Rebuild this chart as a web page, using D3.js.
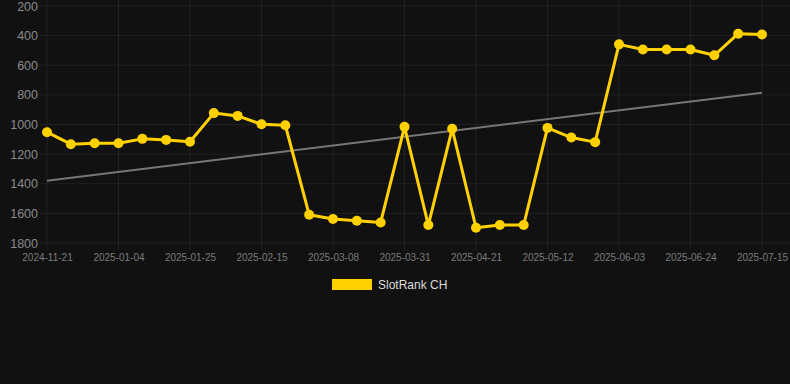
<!DOCTYPE html>
<html>
<head>
<meta charset="utf-8">
<script src="https://cdn.jsdelivr.net/npm/d3@7"></script>
<style>
  html, body { margin: 0; padding: 0; background: #111111; }
  svg { display: block; font-family: "Liberation Sans", Arial, sans-serif; }
</style>
</head>
<body>
<svg id="chart" width="790" height="384"></svg>
<script>
// Data
const dates = [
  '2024-11-21', '2024-12-05', '2024-12-19', '2025-01-04', '2025-01-11', '2025-01-18',
  '2025-01-25', '2025-02-01', '2025-02-08', '2025-02-15', '2025-02-22', '2025-03-01',
  '2025-03-08', '2025-03-15', '2025-03-23', '2025-03-31', '2025-04-07', '2025-04-14',
  '2025-04-21', '2025-04-28', '2025-05-05', '2025-05-12', '2025-05-19', '2025-05-26',
  '2025-06-03', '2025-06-10', '2025-06-17', '2025-06-24', '2025-07-01', '2025-07-08',
  '2025-07-15'
];
const ranks = [
  1052, 1133, 1126, 1126, 1097, 1104, 1117, 923, 942, 998, 1005, 1609,
  1638, 1650, 1661, 1016, 1679, 1029, 1697, 1679, 1679, 1023, 1088, 1119,
  459, 494, 494, 494, 533, 387, 393
];
const trendEnds = [1380, 785];
const yTicks = [200, 400, 600, 800, 1000, 1200, 1400, 1600, 1800];
const seriesName = 'SlotRank CH';

const gold = '#FFD100';
const gridColor = '#212121';

const svg = d3.select('#chart');

const x = d3.scalePoint().domain(dates).range([47, 762]);
const y = d3.scaleLinear().domain([200, 1800]).range([6, 243]);

// every third category gets a label and a grid line
const labelled = dates.filter((d, i) => i % 3 === 0);

// Horizontal grid
svg.append('g')
  .selectAll('line')
  .data(yTicks)
  .join('line')
  .attr('x1', 40).attr('x2', 790)
  .attr('y1', d => y(d)).attr('y2', d => y(d))
  .style('stroke', gridColor);

// Vertical grid
svg.append('g')
  .selectAll('line')
  .data(labelled)
  .join('line')
  .attr('x1', d => x(d)).attr('x2', d => x(d))
  .attr('y1', 0).attr('y2', 250)
  .style('stroke', gridColor);

// Y axis labels
const yAxis = svg.append('g')
  .attr('transform', 'translate(38,0)')
  .call(d3.axisLeft(y).tickValues(yTicks).tickFormat(d3.format('d')).tickSize(0).tickPadding(0));
yAxis.select('.domain').remove();
yAxis.selectAll('text')
  .style('fill', '#8a8a8a')
  .style('font-size', '12.5px')
  .style('font-family', '"Liberation Sans", Arial, sans-serif');

// X axis labels
const xAxis = svg.append('g')
  .attr('transform', 'translate(0,250)')
  .call(d3.axisBottom(x).tickValues(labelled).tickSize(0).tickPadding(4));
xAxis.select('.domain').remove();
xAxis.selectAll('text')
  .style('fill', '#7a7a7a')
  .style('font-size', '10px')
  .style('font-family', '"Liberation Sans", Arial, sans-serif');

// Trend line
svg.append('line')
  .attr('x1', x(dates[0])).attr('y1', y(trendEnds[0]))
  .attr('x2', x(dates[dates.length - 1])).attr('y2', y(trendEnds[1]))
  .style('stroke', '#777777')
  .style('stroke-width', 2);

// Series line
const line = d3.line()
  .x((d, i) => x(dates[i]))
  .y(d => y(d));

svg.append('path')
  .datum(ranks)
  .attr('d', line)
  .style('fill', 'none')
  .style('stroke', gold)
  .style('stroke-width', 3)
  .style('stroke-linejoin', 'round');

svg.append('g')
  .selectAll('circle')
  .data(ranks)
  .join('circle')
  .attr('cx', (d, i) => x(dates[i]))
  .attr('cy', d => y(d))
  .attr('r', 5)
  .style('fill', gold);

// Legend
const legend = svg.append('g').attr('transform', 'translate(332,279)');
legend.append('rect')
  .attr('width', 40).attr('height', 11)
  .style('fill', gold);
legend.append('text')
  .attr('x', 46).attr('y', 10)
  .style('fill', '#dddddd')
  .style('font-size', '12px')
  .text(seriesName);
</script>
</body>
</html>
